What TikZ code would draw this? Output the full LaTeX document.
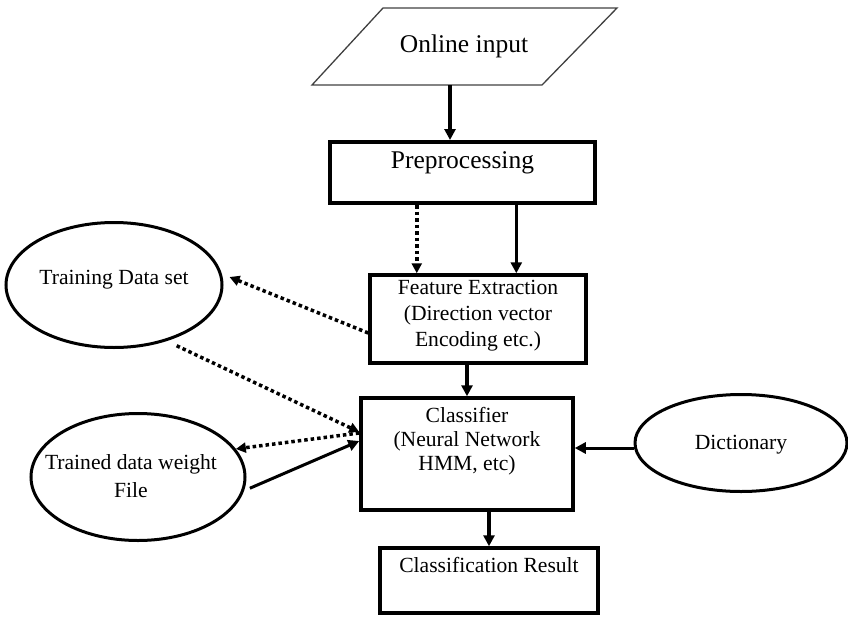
\documentclass[tikz,border=0pt]{standalone}
\usepackage{fontspec}
\setmainfont{Liberation Serif}
\usetikzlibrary{arrows.meta,shapes.geometric,calc}
\begin{document}
\begin{tikzpicture}[x=1pt,y=-1pt,
  box/.style={draw,line width=3.5pt,rectangle,inner sep=0pt},
  ell/.style={draw,line width=3pt,ellipse,inner sep=0pt},
  lbl/.style={font=\fontsize{21.6}{26}\selectfont,align=center,inner sep=0pt},
  biglbl/.style={font=\fontsize{25.5}{30}\selectfont,inner sep=0pt},
  arr/.style={line width=3.5pt,-{Triangle[length=11pt,width=11pt]}},
  dotarr/.style={line width=3.5pt,dash pattern=on 3.5pt off 3pt,-{Triangle[length=10pt,width=10pt]}}
]
\useasboundingbox (0,0) rectangle (848,616);
% input parallelogram
\coordinate (p1) at (383,8);
\coordinate (p2) at (617,8);
\coordinate (p3) at (542,85);
\coordinate (p4) at (312,85);
\draw[line width=1.3pt,draw=black!75] (p1) -- (p2) -- (p3) -- (p4) -- cycle;
\node[biglbl] (inp) at (464,46) {Online input};
\coordinate (inpS) at (450,85);
% boxes
\node[box,line width=4pt,minimum width=265pt,minimum height=61pt] (pre) at (462.5,172.5) {};
\node[biglbl] (preT) at (462.5,163) {Preprocessing};
\node[box,minimum width=216pt,minimum height=88pt] (fe) at (478,319) {};
\node[lbl] (feT) at (478,316) {Feature Extraction\\(Direction vector\\Encoding etc.)};
\node[box,minimum width=212pt,minimum height=112pt] (cls) at (467,454) {};
\node[lbl,font=\fontsize{21.6}{24}\selectfont] (clsT) at (467,441) {Classifier\\(Neural Network\\HMM, etc)};
\node[box,minimum width=218pt,minimum height=65pt] (res) at (489,580.5) {};
\node[lbl] (resT) at (489,565) {Classification Result};
% ellipses
\node[ell,minimum width=212pt,minimum height=97pt] (dic) at (741,443) {};
\node[lbl] (dicT) at (741,445) {Dictionary};
\node[ell,minimum width=216pt,minimum height=125pt] (tds) at (114,285) {};
\node[lbl] (tdsT) at (114,280) {Training Data set};
\node[ell,minimum width=214pt,minimum height=127pt] (trd) at (138,477) {};
\node[lbl,font=\fontsize{21.6}{28}\selectfont] (trdT) at (131,476) {Trained data weight\\File};
% vertical arrows
\draw[arr,line width=4pt] (inpS) -- (inpS |- pre.north);
\coordinate (preA) at ($(pre.south west)!0.33!(pre.south east)$);
\coordinate (preB) at ($(pre.south west)!0.7!(pre.south east)$);
\draw[dotarr] (preA) -- (preA |- fe.north);
\draw[arr] (preB) -- (preB |- fe.north);
\draw[arr] (cls.north |- fe.south) -- (cls.north);
\draw[arr] (res.north |- cls.south) -- (res.north);
% side arrows
\draw[dotarr] ([yshift=-14pt]fe.west) -- ([xshift=6pt,yshift=8pt]tds.east);
\draw[dotarr] ([shift={(6,6)}]tds.-44) -- ([yshift=22pt]cls.west);
\draw[dotarr] ([yshift=21pt]cls.west) -- (trd.16);
\draw[arr,line width=3pt] ([xshift=5pt]trd.-6) -- ([yshift=13pt]cls.west);
\draw[arr,line width=3pt] ([yshift=-5pt]dic.west) -- ([yshift=-5pt]dic.west -| cls.east);
\end{tikzpicture}
\end{document}
